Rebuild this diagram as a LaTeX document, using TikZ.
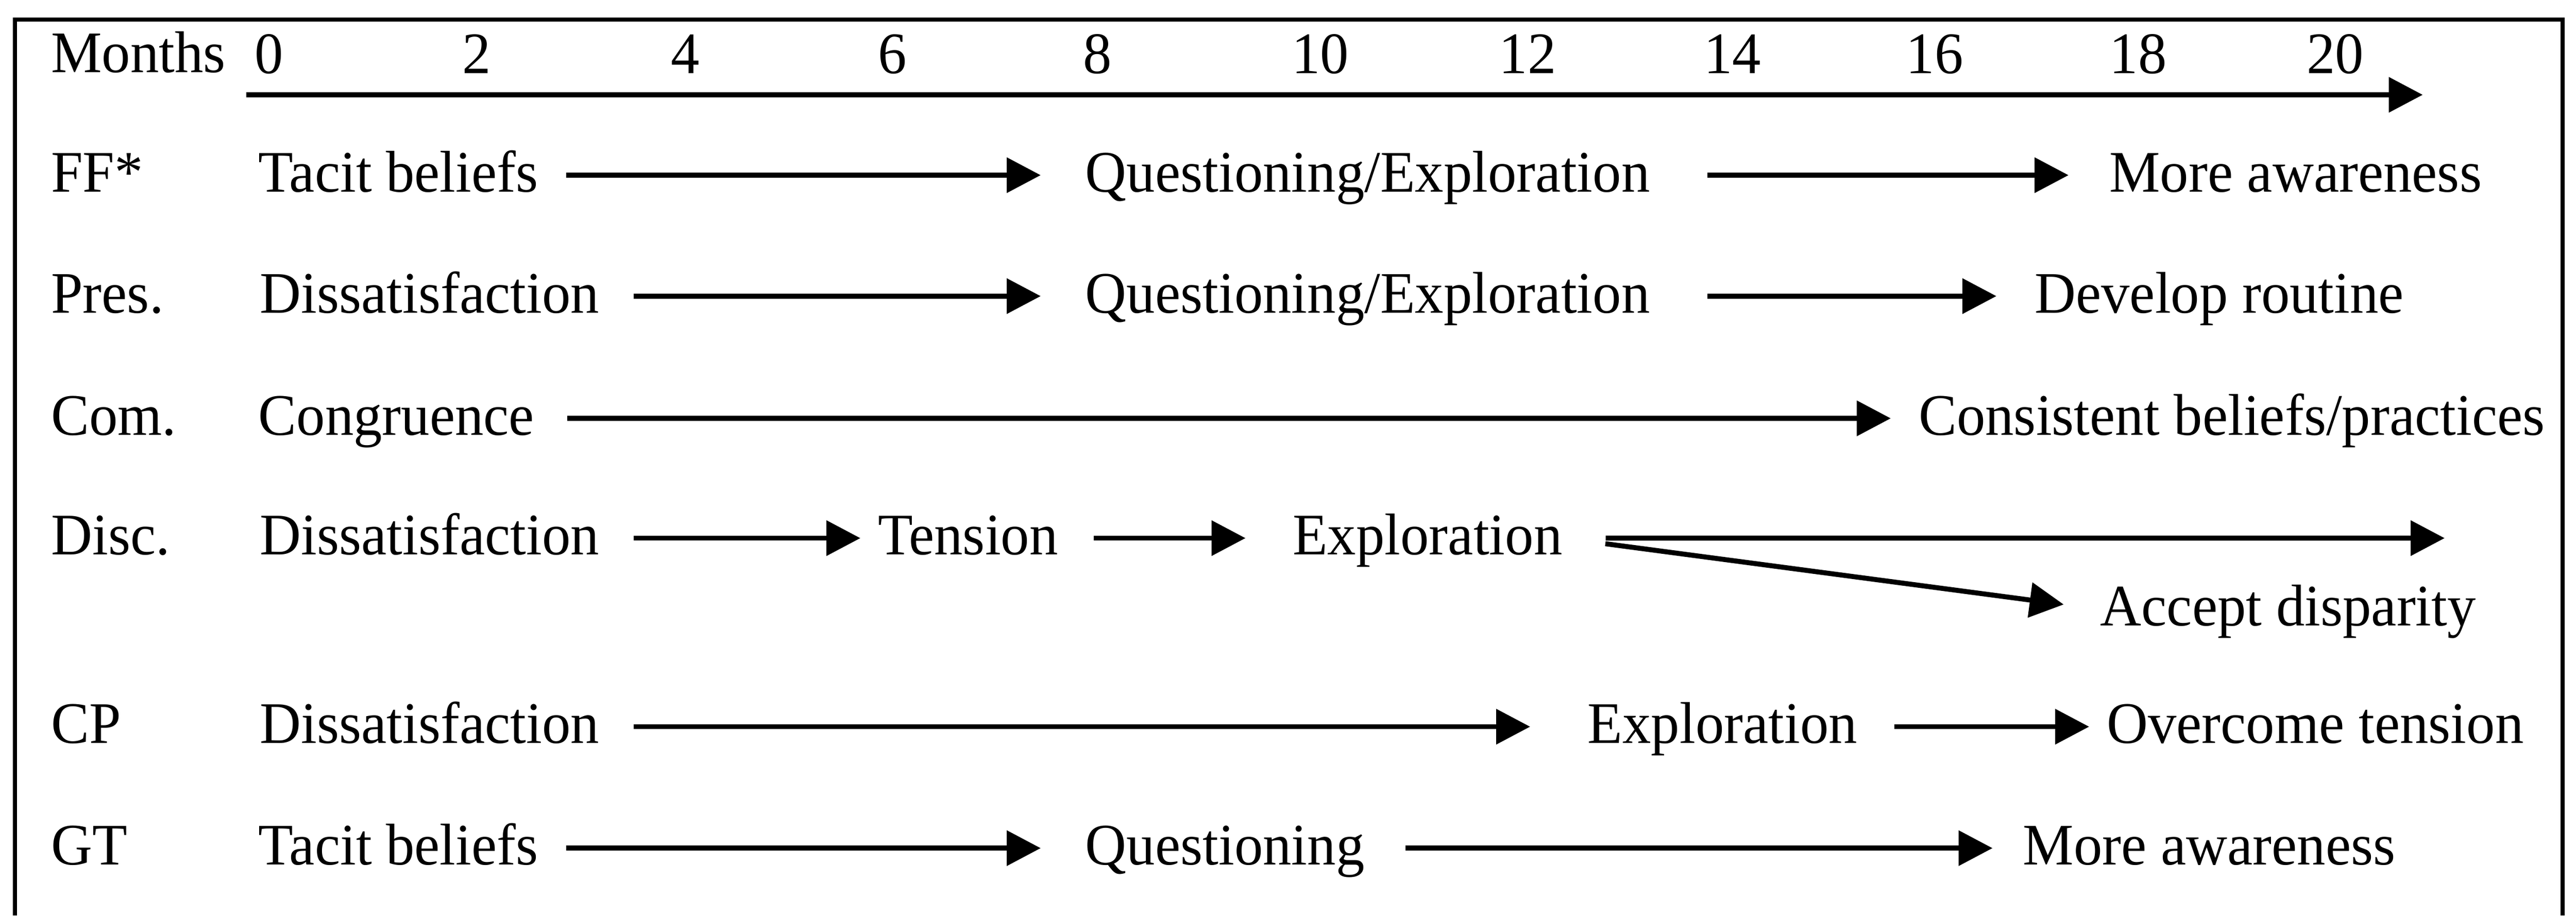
\documentclass[tikz,border=0pt]{standalone}
\usepackage{fontspec}
\setmainfont[FakeStretch=0.97]{Liberation Serif}
\usepackage{tikz}
\usetikzlibrary{arrows.meta}
\tikzset{
  lbl/.style={anchor=base west, inner sep=0pt, text height=8.6pt, text depth=1.26pt, font=\fontsize{13.0}{15}\selectfont},
  num/.style={anchor=base, inner sep=0pt, font=\fontsize{13.0}{15}\selectfont},
  arr/.style={line width=1.1pt, -{Triangle[length=7.5pt,width=7.6pt]}}
}

\begin{document}
\begin{tikzpicture}
\useasboundingbox (0,0) rectangle (20,-7.108);
\draw [line width=0.9pt] (0.115,-7.108) -- (0.115,-0.153) -- (19.895,-0.153) -- (19.895,-7.108);
% time axis
\draw (0.39,-0.56) node[lbl] (months) {Months};
\draw (2.09,-0.57) node[num] (m0) {0};
\draw (3.70,-0.57) node[num] (m2) {2};
\draw (5.32,-0.57) node[num] (m4) {4};
\draw (6.93,-0.57) node[num] (m6) {6};
\draw (8.52,-0.57) node[num] (m8) {8};
\draw (10.25,-0.57) node[num] (m10) {10};
\draw (11.86,-0.57) node[num] (m12) {12};
\draw (13.45,-0.57) node[num] (m14) {14};
\draw (15.02,-0.57) node[num] (m16) {16};
\draw (16.60,-0.57) node[num] (m18) {18};
\draw (18.13,-0.57) node[num] (m20) {20};
\coordinate (axs) at (1.91,-0.736);
\coordinate (axe) at (18.81,-0.736);
\draw [arr] (axs) -- (axe);
% FF*
\draw (0.39,-1.489) node[lbl] (ff) {FF*};
\draw (2.00,-1.489) node[lbl] (ff1) {Tacit beliefs};
\draw (8.42,-1.489) node[lbl] (ff2) {Questioning/Exploration};
\draw (16.37,-1.489) node[lbl] (ff3) {More awareness};
\draw [arr, shorten <=0.21cm, shorten >=0.34cm] (ff1) -- (ff2);
\draw [arr, shorten <=0.44cm, shorten >=0.31cm] (ff2) -- (ff3);
% Pres.
\draw (0.39,-2.428) node[lbl] (pr) {Pres.};
\draw (2.01,-2.428) node[lbl] (pr1) {Dissatisfaction};
\draw (8.42,-2.428) node[lbl] (pr2) {Questioning/Exploration};
\draw (15.79,-2.428) node[lbl] (pr3) {Develop routine};
\draw [arr, shorten <=0.26cm, shorten >=0.34cm] (pr1) -- (pr2);
\draw [arr, shorten <=0.44cm, shorten >=0.29cm] (pr2) -- (pr3);
% Com.
\draw (0.39,-3.377) node[lbl] (co) {Com.};
\draw (2.00,-3.377) node[lbl] (co1) {Congruence};
\draw (14.89,-3.377) node[lbl] (co2) {Consistent beliefs/practices};
\draw [arr, shorten <=0.25cm, shorten >=0.21cm] (co1) -- (co2);
% Disc.
\draw (0.39,-4.307) node[lbl] (di) {Disc.};
\draw (2.01,-4.307) node[lbl] (di1) {Dissatisfaction};
\draw (6.81,-4.307) node[lbl] (di2) {Tension};
\draw (10.03,-4.307) node[lbl] (di3) {Exploration};
\draw (16.30,-4.859) node[lbl] (di4) {Accept disparity};
\coordinate (dend) at (18.98,-4.178);
\draw [arr, shorten <=0.26cm, shorten >=0.13cm] (di1) -- (di2);
\draw [arr, shorten <=0.27cm, shorten >=0.36cm] (di2) -- (di3);
\draw [arr, shorten <=0.33cm] (di3) -- (dend);
\draw [arr, shorten <=0.33cm, shorten >=0.28cm] (di3.east) -- (di4.west);
% CP
\draw (0.39,-5.771) node[lbl] (cp) {CP};
\draw (2.01,-5.771) node[lbl] (cp1) {Dissatisfaction};
\draw (12.32,-5.771) node[lbl] (cp2) {Exploration};
\draw (16.35,-5.771) node[lbl] (cp3) {Overcome tension};
\draw [arr, shorten <=0.26cm, shorten >=0.44cm] (cp1) -- (cp2);
\draw [arr, shorten <=0.28cm, shorten >=0.13cm] (cp2) -- (cp3);
% GT
\draw (0.39,-6.714) node[lbl] (gt) {GT};
\draw (2.00,-6.714) node[lbl] (gt1) {Tacit beliefs};
\draw (8.42,-6.714) node[lbl] (gt2) {Questioning};
\draw (15.70,-6.714) node[lbl] (gt3) {More awareness};
\draw [arr, shorten <=0.21cm, shorten >=0.34cm] (gt1) -- (gt2);
\draw [arr, shorten <=0.31cm, shorten >=0.23cm] (gt2) -- (gt3);

\end{tikzpicture}
\end{document}
